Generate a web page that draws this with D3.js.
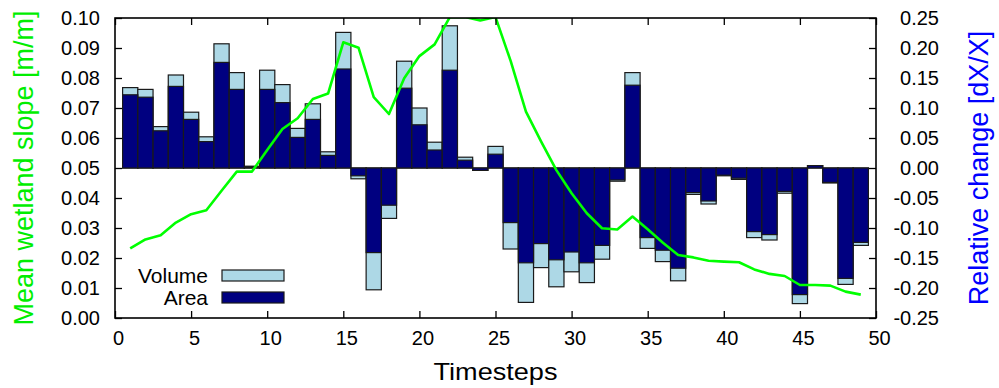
<!DOCTYPE html>
<html>
<head>
<meta charset="utf-8">
<script src="https://cdn.jsdelivr.net/npm/d3@7"></script>
<style>
  body { margin: 0; background: #fff; }
  svg text { font-family: "Liberation Sans", Arial, sans-serif; fill: #000; }
</style>
</head>
<body>
<script>
// data
const timesteps = [1, 2, 3, 4, 5, 6, 7, 8, 9, 10, 11, 12, 13, 14, 15, 16, 17, 18, 19, 20,
    21, 22, 23, 24, 25, 26, 27, 28, 29, 30, 31, 32, 33, 34, 35, 36, 37, 38, 39, 40,
    41, 42, 43, 44, 45, 46, 47, 48, 49];

const volumeChange = [0.134, 0.131, 0.069, 0.155, 0.093, 0.052, 0.207, 0.159, 0.003, 0.163,
    0.139, 0.066, 0.107, 0.027, 0.226, -0.018, -0.203, -0.084, 0.178, 0.100,
    0.043, 0.237, 0.018, -0.004, 0.036, -0.135, -0.224, -0.166, -0.198, -0.173,
    -0.191, -0.152, -0.022, 0.159, -0.134, -0.156, -0.188, -0.044, -0.060, -0.013,
    -0.019, -0.116, -0.120, -0.042, -0.226, 0.004, -0.025, -0.194, -0.129];

const areaChange = [0.122, 0.118, 0.062, 0.136, 0.081, 0.044, 0.176, 0.131, 0.002, 0.131,
    0.109, 0.051, 0.081, 0.021, 0.165, -0.013, -0.141, -0.062, 0.133, 0.072,
    0.030, 0.163, 0.013, -0.004, 0.023, -0.091, -0.158, -0.126, -0.153, -0.140,
    -0.158, -0.129, -0.020, 0.138, -0.116, -0.137, -0.167, -0.041, -0.055, -0.012,
    -0.017, -0.106, -0.111, -0.039, -0.211, 0.004, -0.024, -0.184, -0.124];

const meanSlope = [0.0232, 0.0262, 0.0276, 0.0318, 0.0346, 0.0359, 0.0424, 0.0488, 0.0488, 0.0560,
    0.0630, 0.0666, 0.0730, 0.0748, 0.0919, 0.0901, 0.0736, 0.0680, 0.0799, 0.0873,
    0.0912, 0.1003, 0.1003, 0.0992, 0.1003, 0.0856, 0.0688, 0.0588, 0.0493, 0.0416,
    0.0349, 0.0299, 0.0295, 0.0338, 0.0296, 0.0251, 0.0210, 0.0202, 0.0191, 0.0188,
    0.0186, 0.0162, 0.0147, 0.0140, 0.0110, 0.0110, 0.0108, 0.0088, 0.0078];

const xTicks = [0, 5, 10, 15, 20, 25, 30, 35, 40, 45, 50];
const leftTicks = [0, 0.01, 0.02, 0.03, 0.04, 0.05, 0.06, 0.07, 0.08, 0.09, 0.10];
const rightTicks = [-0.25, -0.20, -0.15, -0.10, -0.05, 0, 0.05, 0.10, 0.15, 0.20, 0.25];

// layout
const W = 999, H = 388;
const margin = {top: 18, right: 123, bottom: 70, left: 115},
    width = W - margin.left - margin.right,
    height = H - margin.top - margin.bottom;

const svg = d3.select("body").append("svg")
    .attr("width", W)
    .attr("height", H);

const x = d3.scaleLinear().domain([0, 50]).range([0, width]);
const yL = d3.scaleLinear().domain([0, 0.10]).range([height, 0]);
const yR = d3.scaleLinear().domain([-0.25, 0.25]).range([height, 0]);

const g = svg.append("g")
    .attr("transform", "translate(" + margin.left + "," + margin.top + ")");

g.append("clipPath").attr("id", "clip")
    .append("rect").attr("width", width).attr("height", height);

const barW = x(1) - x(0);

// bars: volume behind, area in front
function drawBars(values, fill) {
    g.append("g").selectAll("rect")
        .data(values)
        .enter().append("rect")
        .attr("x", (d, i) => x(timesteps[i]) - barW / 2)
        .attr("y", d => yR(Math.max(d, 0)))
        .attr("width", barW)
        .attr("height", d => Math.abs(yR(d) - yR(0)))
        .attr("fill", fill)
        .attr("stroke", "#1a1a1a")
        .attr("stroke-width", 1.2);
}
drawBars(volumeChange, "#add8e6");
drawBars(areaChange, "#000080");

// slope line
const line = d3.line()
    .x((d, i) => x(timesteps[i]))
    .y(d => yL(d));

g.append("path")
    .datum(meanSlope)
    .attr("clip-path", "url(#clip)")
    .attr("fill", "none")
    .attr("stroke", "#00ff00")
    .attr("stroke-width", 2.6)
    .attr("stroke-linejoin", "round")
    .attr("d", line);

// axes
const tickFont = "20px";

const xAxis = g.append("g")
    .attr("transform", "translate(0," + height + ")")
    .call(d3.axisBottom(x).tickValues(xTicks).tickSize(-7).tickPadding(13).tickFormat(d3.format("d")));

xAxis.selectAll("text").attr("dx", 3);

const xTop = g.append("g")
    .call(d3.axisTop(x).tickValues(xTicks).tickSize(-7).tickFormat(""));

const yAxisL = g.append("g")
    .call(d3.axisLeft(yL).tickValues(leftTicks).tickSize(-7).tickPadding(15).tickFormat(d3.format(".2f")));

const yAxisR = g.append("g")
    .attr("transform", "translate(" + width + ",0)")
    .call(d3.axisRight(yR).tickValues(rightTicks).tickSize(-7).tickFormat(d3.format(".2f")));

yAxisR.selectAll("text")
    .attr("text-anchor", "end")
    .attr("x", 63)
    .text(d => d3.format(".2f")(d).replace("−", "-"));

[xAxis, xTop, yAxisL, yAxisR].forEach(a => {
    a.select(".domain").remove();
    a.selectAll("line").attr("stroke", "#000").attr("stroke-width", 1.3);
    a.selectAll("text").style("font-size", tickFont).attr("fill", "#000");
});

// frame
g.append("rect")
    .attr("width", width)
    .attr("height", height)
    .attr("fill", "none")
    .attr("stroke", "#000")
    .attr("stroke-width", 1.6);

// axis titles
svg.append("text")
    .attr("transform", "translate(33," + (margin.top + height / 2) + ") rotate(-90)")
    .attr("text-anchor", "middle")
    .style("font-size", "27px")
    .style("fill", "#00ee00")
    .text("Mean wetland slope [m/m]");

svg.append("text")
    .attr("transform", "translate(988," + (margin.top + height / 2) + ") rotate(-90)")
    .attr("text-anchor", "middle")
    .style("font-size", "27px")
    .style("fill", "#0000ff")
    .text("Relative change [dX/X]");

svg.append("text")
    .attr("x", margin.left + width / 2)
    .attr("y", 380)
    .attr("text-anchor", "middle")
    .attr("textLength", 124)
    .attr("lengthAdjust", "spacingAndGlyphs")
    .style("font-size", "24px")
    .text("Timesteps");

// legend
const legend = g.append("g");
const legendItems = [["Volume", "#add8e6"], ["Area", "#000080"]];
legendItems.forEach((item, i) => {
    legend.append("text")
        .attr("x", 93)
        .attr("y", 265 + i * 22)
        .attr("text-anchor", "end")
        .style("font-size", "21px")
        .text(item[0]);
    legend.append("rect")
        .attr("x", 107)
        .attr("y", 252 + i * 22)
        .attr("width", 62)
        .attr("height", 11)
        .attr("fill", item[1])
        .attr("stroke", "#1a1a1a")
        .attr("stroke-width", 1.2);
});
</script>
</body>
</html>
